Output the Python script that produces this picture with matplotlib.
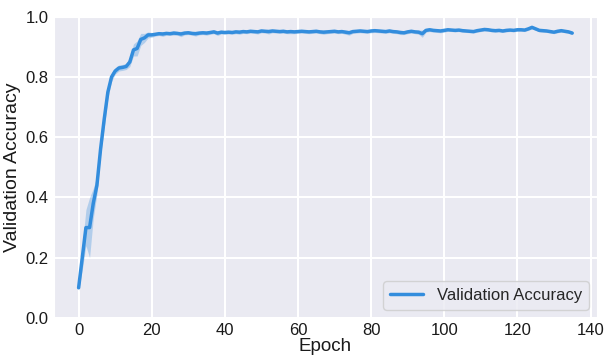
import numpy as np
import matplotlib
matplotlib.use("Agg")
import matplotlib.pyplot as plt
import seaborn as sns

# mean validation accuracy per epoch
val_acc = [
    0.10, 0.20, 0.30, 0.30, 0.38, 0.44, 0.56, 0.66, 0.75, 0.80,
    0.82, 0.83, 0.832, 0.835, 0.85, 0.89, 0.895, 0.925, 0.93, 0.94,
    0.94,
    0.942, 0.944, 0.943, 0.945, 0.944, 0.946, 0.945, 0.943, 0.946, 0.947,
    0.945, 0.944, 0.946, 0.947, 0.946, 0.948, 0.950, 0.946, 0.949, 0.948,
    0.949, 0.948, 0.950, 0.949, 0.951, 0.950, 0.952, 0.951, 0.950, 0.953,
    0.952, 0.951, 0.953, 0.952, 0.951, 0.952, 0.950, 0.951, 0.950, 0.951,
    0.952, 0.951, 0.950, 0.951, 0.952, 0.950, 0.949, 0.950, 0.951, 0.952,
    0.950, 0.951, 0.949, 0.947, 0.951, 0.952, 0.953, 0.952, 0.951, 0.953,
    0.954, 0.953, 0.952, 0.951, 0.953, 0.951, 0.950, 0.948, 0.947, 0.950,
    0.952, 0.950, 0.949, 0.944, 0.955, 0.957, 0.955, 0.954, 0.953, 0.955,
    0.957, 0.956, 0.955, 0.956, 0.954, 0.953, 0.952, 0.951, 0.954, 0.956,
    0.958, 0.957, 0.955, 0.954, 0.955, 0.953, 0.955, 0.956, 0.955, 0.957,
    0.957, 0.956, 0.960, 0.965, 0.960, 0.955, 0.954, 0.953, 0.951, 0.949,
    0.952, 0.954, 0.952, 0.950, 0.946,
]

# half width of the shaded band around the mean
spread = [
    0.01, 0.04, 0.06, 0.10, 0.05, 0.03, 0.02, 0.03, 0.02, 0.015,
    0.01, 0.01, 0.01, 0.01, 0.015, 0.02, 0.025, 0.02, 0.015, 0.01,
    0.008,
    0.006, 0.006, 0.008, 0.006, 0.006, 0.007, 0.006, 0.009, 0.006, 0.006,
    0.006, 0.008, 0.006, 0.006, 0.007, 0.006, 0.006, 0.008, 0.006, 0.006,
    0.006, 0.006, 0.006, 0.007, 0.006, 0.006, 0.006, 0.006, 0.007, 0.006,
    0.006, 0.008, 0.006, 0.006, 0.006, 0.006, 0.006, 0.007, 0.006, 0.006,
    0.006, 0.006, 0.006, 0.006, 0.006, 0.006, 0.007, 0.006, 0.006, 0.006,
    0.006, 0.006, 0.007, 0.008, 0.006, 0.006, 0.006, 0.006, 0.006, 0.006,
    0.006, 0.006, 0.006, 0.006, 0.006, 0.006, 0.006, 0.007, 0.006, 0.006,
    0.006, 0.006, 0.007, 0.012, 0.006, 0.006, 0.006, 0.006, 0.006, 0.006,
    0.005, 0.005, 0.005, 0.005, 0.005, 0.005, 0.005, 0.005, 0.005, 0.005,
    0.005, 0.005, 0.005, 0.005, 0.005, 0.005, 0.005, 0.005, 0.005, 0.005,
    0.005, 0.005, 0.005, 0.005, 0.005, 0.005, 0.005, 0.005, 0.005, 0.005,
    0.005, 0.005, 0.005, 0.005, 0.005,
]

epochs = np.arange(len(val_acc))
mean = np.array(val_acc)
band = np.array(spread)

sns.set_style("darkgrid")
plt.rcParams['font.family'] = ['Liberation Sans', 'DejaVu Sans']

line_color = "#338ddd"

fig, ax = plt.subplots(figsize=(6.06, 3.58), dpi=100)
fig.subplots_adjust(left=0.089, right=0.985, bottom=0.112, top=0.953)

ax.fill_between(epochs, mean - band, mean + band, color=line_color, alpha=0.3, linewidth=0)
ax.plot(epochs, mean, color=line_color, linewidth=2.5, label="Validation Accuracy")

ax.set_ylim(0, 1.0)
ax.set_xticks(range(0, 141, 20))
ax.grid(True, color="white", linewidth=1.5)
ax.tick_params(labelsize=12, colors="#1a1a1a", length=0, pad=4)
ax.set_xlabel("Epoch", fontsize=13.5, labelpad=0, color="#1a1a1a")
ax.set_ylabel("Validation Accuracy", fontsize=14, labelpad=3, color="#1a1a1a")

leg = ax.legend(loc="lower right", fontsize=12, frameon=True, facecolor="#EAEAF2",
                edgecolor="#cccccc", framealpha=0.8)

plt.savefig("out.png", dpi=100)
